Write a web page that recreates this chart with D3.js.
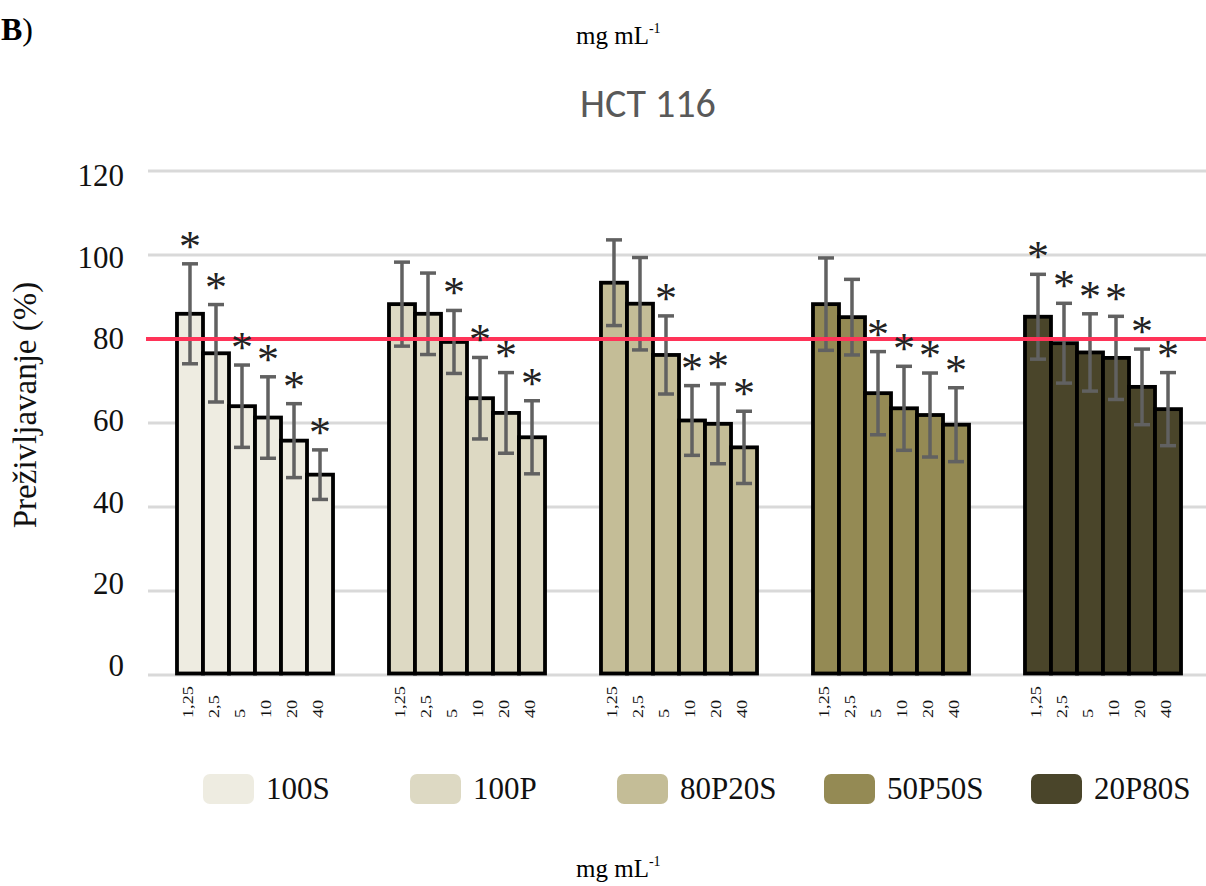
<!DOCTYPE html>
<html>
<head>
<meta charset="utf-8">
<script src="https://cdn.jsdelivr.net/npm/d3@7"></script>
<style>
  html, body { margin: 0; padding: 0; background: #fff; }
  svg { display: block; }
</style>
</head>
<body>
<svg id="chart" width="1206" height="886"></svg>
<script>
// Groups (mixtures) and concentrations (mg mL-1)
const categories = ["100S", "100P", "80P20S", "50P50S", "20P80S"];
const concentrations = ["1,25", "2,5", "5", "10", "20", "40"];
const yTicks = [0, 20, 40, 60, 80, 100, 120];
const thresholdValue = 80;

// Survival (%) per mixture, one value per concentration
const s100S   = [86.0, 76.6, 64.0, 61.3, 55.8, 47.7];
const s100P   = [88.3, 86.0, 79.3, 65.9, 62.4, 56.6];
const s80P20S = [93.4, 88.4, 76.2, 60.6, 59.8, 54.2];
const s50P50S = [88.3, 85.2, 67.1, 63.5, 61.9, 59.6];
const s20P80S = [85.3, 79.0, 76.8, 75.5, 68.6, 63.3];

// Standard deviations
const sd100S   = [11.9, 11.6, 9.8, 9.7, 8.8, 5.9];
const sd100P   = [10.0, 9.7, 7.5, 9.7, 9.6, 8.7];
const sd80P20S = [10.2, 11.0, 9.3, 8.3, 9.5, 8.6];
const sd50P50S = [11.0, 9.0, 9.9, 10.0, 10.0, 8.8];
const sd20P80S = [10.1, 9.5, 9.2, 9.9, 9.0, 8.7];

// Statistical significance markers (1 = asterisk)
const sig100S   = [1, 1, 1, 1, 1, 1];
const sig100P   = [0, 0, 1, 1, 1, 1];
const sig80P20S = [0, 0, 1, 1, 1, 1];
const sig50P50S = [0, 0, 1, 1, 1, 1];
const sig20P80S = [1, 1, 1, 1, 1, 1];

const colors = ["#EEECE1", "#DDD9C3", "#C4BD97", "#948A54", "#4A452A"];

const means = [s100S, s100P, s80P20S, s50P50S, s20P80S];
const sds = [sd100S, sd100P, sd80P20S, sd50P50S, sd20P80S];
const sigs = [sig100S, sig100P, sig80P20S, sig50P50S, sig20P80S];

const rows = [];
categories.forEach((cat, gi) => {
  concentrations.forEach((conc, ci) => {
    rows.push({ cat, conc, gi, mean: means[gi][ci], sd: sds[gi][ci], sig: sigs[gi][ci] });
  });
});

const serif = "'Liberation Serif', 'Times New Roman', serif";
const svg = d3.select("#chart");

const y = d3.scaleLinear().domain([0, 120]).range([675, 171]);
const yLabel = d3.scaleLinear().domain([0, 120]).range([665, 175]);
const x0 = d3.scaleBand().domain(categories).range([149, 1209]).paddingInner(0.264).paddingOuter(0.132);
const x1 = d3.scaleBand().domain(concentrations).range([0, x0.bandwidth()]);
const color = d3.scaleOrdinal().domain(categories).range(colors);

// Gridlines
svg.append("g").selectAll("line").data(yTicks).join("line")
  .attr("x1", 148).attr("x2", 1206)
  .attr("y1", d => y(d)).attr("y2", d => y(d))
  .attr("stroke", "#d9d9d9").attr("stroke-width", 3);

// Y tick labels
svg.append("g").selectAll("text").data(yTicks).join("text")
  .attr("x", 124).attr("y", d => yLabel(d)).attr("dy", "0.35em")
  .attr("text-anchor", "end")
  .style("font-family", serif).style("font-size", "31px").attr("fill", "#111")
  .text(d => d);

// Y axis title
svg.append("text")
  .attr("transform", "translate(36,405) rotate(-90)")
  .attr("text-anchor", "middle")
  .style("font-family", serif).style("font-size", "33px").attr("fill", "#111")
  .text("Preživljavanje (%)");

// Bars
svg.append("g").selectAll("rect").data(rows).join("rect")
  .attr("x", d => x0(d.cat) + x1(d.conc))
  .attr("y", d => y(d.mean))
  .attr("width", x1.bandwidth())
  .attr("height", d => y(0) - y(d.mean) - 1.5)
  .attr("fill", d => color(d.cat))
  .attr("stroke", "#000").attr("stroke-width", 3.8);

// Error bars
const eb = svg.append("g").attr("stroke", "#616161").attr("stroke-width", 3.5);
const cx = d => x0(d.cat) + x1(d.conc) + x1.bandwidth() / 2;
eb.selectAll("line.v").data(rows).join("line").attr("class", "v")
  .attr("x1", cx).attr("x2", cx)
  .attr("y1", d => y(d.mean + d.sd)).attr("y2", d => y(d.mean - d.sd));
eb.selectAll("line.t").data(rows).join("line").attr("class", "t")
  .attr("x1", d => cx(d) - 8).attr("x2", d => cx(d) + 8)
  .attr("y1", d => y(d.mean + d.sd)).attr("y2", d => y(d.mean + d.sd));
eb.selectAll("line.b").data(rows).join("line").attr("class", "b")
  .attr("x1", d => cx(d) - 8).attr("x2", d => cx(d) + 8)
  .attr("y1", d => y(d.mean - d.sd)).attr("y2", d => y(d.mean - d.sd));

// 80% threshold line
svg.append("line")
  .attr("x1", 146).attr("x2", 1206)
  .attr("y1", y(thresholdValue)).attr("y2", y(thresholdValue))
  .attr("stroke", "#ff3358").attr("stroke-width", 4);

// Significance asterisks
svg.append("g").selectAll("text").data(rows.filter(d => d.sig)).join("text")
  .attr("x", cx)
  .attr("y", d => y(d.mean + d.sd) - 3)
  .attr("text-anchor", "middle")
  .style("font-family", serif).style("font-size", "44px").attr("fill", "#222")
  .text("*");

// Concentration tick labels (rotated)
svg.append("g").selectAll("text").data(rows).join("text")
  .attr("transform", d => `translate(${cx(d) - 2},718) rotate(-90) scale(1.3,1)`)
  .attr("dy", "0.35em")
  .attr("text-anchor", "start")
  .style("font-family", serif).style("font-size", "14px").attr("fill", "#111")
  .text(d => d.conc);

// Title
svg.append("text")
  .attr("x", 648).attr("y", 117)
  .attr("text-anchor", "middle")
  .style("font-family", "Carlito, Calibri, Lato, sans-serif").style("font-size", "40px")
  .attr("fill", "#595959")
  .text("HCT 116");

// Legend
const legend = svg.append("g").selectAll("g").data(categories).join("g")
  .attr("transform", (d, i) => `translate(${203 + i * 207},774)`);
legend.append("rect")
  .attr("width", 51).attr("height", 30).attr("rx", 7)
  .attr("fill", d => color(d));
legend.append("text")
  .attr("x", 63).attr("y", 25)
  .style("font-family", serif).style("font-size", "31px").attr("fill", "#111")
  .text(d => d);

// Panel letter
const panel = svg.append("text").attr("x", 1).attr("y", 40)
  .style("font-family", serif).style("font-size", "32px").attr("fill", "#000");
panel.append("tspan").style("font-weight", "bold").text("B");
panel.append("tspan").text(")");

// Unit labels
function unitLabel(yPos) {
  const t = svg.append("text").attr("x", 576).attr("y", yPos)
    .style("font-family", serif).style("font-size", "25px").attr("fill", "#000");
  t.append("tspan").text("mg mL");
  t.append("tspan").attr("dy", -11).style("font-size", "14px").text("-1");
}
unitLabel(44);
unitLabel(877);
</script>
</body>
</html>
